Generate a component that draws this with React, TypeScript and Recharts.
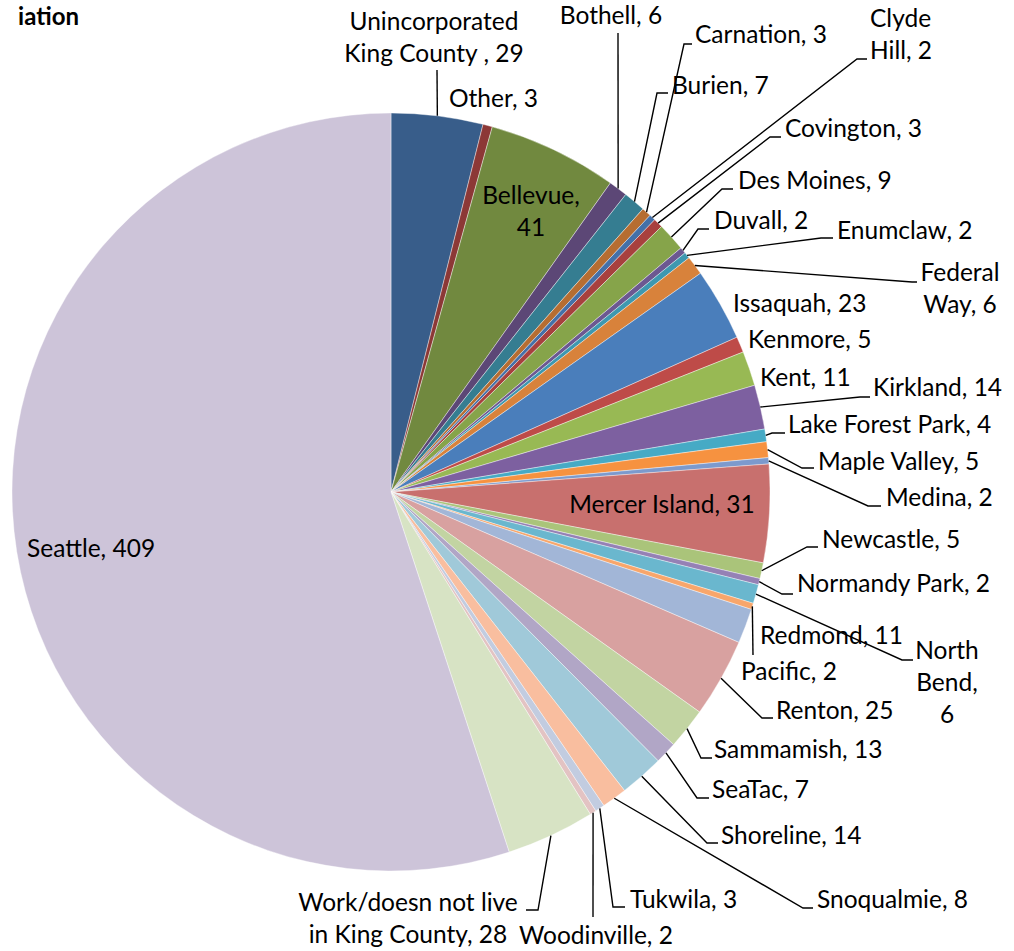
import { PieChart, Pie, Cell } from "recharts";

// survey counts by city, clockwise from 12 o'clock
const CITIES = [
  "Unincorporated King County ", "Other", "Bellevue", "Bothell", "Burien", "Carnation",
  "Clyde Hill", "Covington", "Des Moines", "Duvall", "Enumclaw", "Federal Way",
  "Issaquah", "Kenmore", "Kent", "Kirkland", "Lake Forest Park", "Maple Valley",
  "Medina", "Mercer Island", "Newcastle", "Normandy Park", "North Bend", "Pacific",
  "Redmond", "Renton", "Sammamish", "SeaTac", "Shoreline", "Snoqualmie",
  "Tukwila", "Woodinville", "Work/doesn not live in King County", "Seattle",
];
const COUNTS = [
  29, 3, 41, 6, 7, 3,
  2, 3, 9, 2, 2, 6,
  23, 5, 11, 14, 4, 5,
  2, 31, 5, 2, 6, 2,
  11, 25, 13, 7, 14, 8,
  3, 2, 28, 409,
];

// excel-ish palette, dark to light in cycles of 6
const COLORS = [
  "#385D8A", "#8C3836", "#71893F", "#5C4776", "#357D91", "#B66D31",
  "#4470A8", "#A8403E", "#86A44A", "#6C5891", "#3E98B0", "#D8823B",
  "#4A7EBB", "#BE4B48", "#98B954", "#7D60A0", "#46AAC5", "#F69240",
  "#7C9ACD", "#C8706E", "#AAC47A", "#9581B5", "#6AB7CE", "#F8A66B",
  "#A2B6D7", "#D8A1A0", "#C2D4A2", "#B1A6C6", "#A0C9D9", "#F9BE9F",
  "#C2CCE0", "#E3C3C3", "#D7E3C4", "#CDC4D9",
];

const data = CITIES.map((name, i) => ({ name, value: COUNTS[i] }));

type Lay = {
  x: number;
  y: number;
  anchor: "start" | "middle" | "end";
  split?: number[];
  path?: [number, number][];
};

// manual label placement (text centre line y) + leader line bends
const LABEL_LAYOUT: Lay[] = [
  { x: 434, y: 22, anchor: "middle", split: [1, 4], path: [[437, 70]] },
  { x: 449, y: 99, anchor: "start" },
  { x: 531, y: 196, anchor: "middle", split: [1, 1] },
  { x: 611, y: 16, anchor: "middle", path: [[618, 33]] },
  { x: 672, y: 86, anchor: "start", path: [[657, 93], [668, 93]] },
  { x: 695, y: 35, anchor: "start", path: [[684, 44], [692, 44]] },
  { x: 870, y: 19, anchor: "start", split: [1, 2], path: [[857, 59], [867, 59]] },
  { x: 785, y: 129, anchor: "start", path: [[770, 137], [781, 137]] },
  { x: 738, y: 181, anchor: "start", path: [[722, 189], [733, 189]] },
  { x: 714, y: 221, anchor: "start", path: [[698, 229], [709, 229]] },
  { x: 837, y: 231, anchor: "start", path: [[821, 238], [833, 238]] },
  { x: 960, y: 273, anchor: "middle", split: [1, 2], path: [[912, 282], [917, 282]] },
  { x: 733, y: 304, anchor: "start" },
  { x: 748, y: 340, anchor: "start" },
  { x: 760, y: 378, anchor: "start" },
  { x: 873, y: 388, anchor: "start", path: [[860, 397], [870, 397]] },
  { x: 788, y: 425, anchor: "start", path: [[772, 433], [785, 433]] },
  { x: 818, y: 462, anchor: "start", path: [[802, 468], [814, 468]] },
  { x: 886, y: 498, anchor: "start", path: [[868, 506], [881, 506]] },
  { x: 662, y: 505, anchor: "middle" },
  { x: 822, y: 540, anchor: "start", path: [[807, 547], [818, 547]] },
  { x: 797, y: 584, anchor: "start", path: [[782, 594], [793, 594]] },
  { x: 947, y: 651, anchor: "middle", split: [1, 1, 1], path: [[902, 660], [913, 660]] },
  { x: 741, y: 672, anchor: "start", path: [[753, 655]] },
  { x: 760, y: 636, anchor: "start" },
  { x: 776, y: 711, anchor: "start", path: [[762, 718], [773, 718]] },
  { x: 714, y: 750, anchor: "start", path: [[701, 758], [712, 758]] },
  { x: 712, y: 790, anchor: "start", path: [[697, 798], [709, 798]] },
  { x: 721, y: 836, anchor: "start", path: [[707, 843], [718, 843]] },
  { x: 817, y: 900, anchor: "start", path: [[803, 908], [813, 908]] },
  { x: 630, y: 900, anchor: "start", path: [[613, 907], [625, 907]] },
  { x: 596, y: 936, anchor: "middle", path: [[593, 917]] },
  { x: 408, y: 903, anchor: "middle", split: [3, 4], path: [[538, 910], [526, 910]] },
  { x: 27, y: 549, anchor: "start" },
];

const FONT = "Lato, 'Noto Sans', sans-serif";
const FONT_SIZE = 24.5;
const LINE_H = 32;
const RAD = Math.PI / 180;

function renderLabel(props: any) {
  const { cx, cy, midAngle, outerRadius, index, name, value } = props;
  const lay = LABEL_LAYOUT[index];
  if (!lay) return null;
  const words = `${name}, ${value}`.split(" ");
  const lines: string[] = [];
  if (lay.split) {
    let k = 0;
    lay.split.forEach((n) => {
      lines.push(words.slice(k, k + n).join(" "));
      k += n;
    });
  } else {
    lines.push(words.join(" "));
  }
  const ex = cx + outerRadius * Math.cos(-midAngle * RAD);
  const ey = cy + outerRadius * Math.sin(-midAngle * RAD);
  const pts = lay.path ? [[ex, ey], ...lay.path] : null;

  return (
    <g key={`lbl-${index}`}>
      {pts && (
        <polyline
          points={pts.map((p) => p.join(",")).join(" ")}
          fill="none"
          stroke="#000"
          strokeWidth={1.4}
        />
      )}
      <text
        x={lay.x}
        y={lay.y + 8}
        textAnchor={lay.anchor}
        fontFamily={FONT}
        fontSize={FONT_SIZE}
        fill="#000"
      >
        {lines.map((l, i) => (
          <tspan key={i} x={lay.x} dy={i === 0 ? 0 : LINE_H}>
            {l}
          </tspan>
        ))}
      </text>
    </g>
  );
}

export default function App() {
  return (
    <div style={{ position: "absolute", left: 0, top: 0, width: 1014, height: 951, background: "#fff" }}>
      <PieChart width={1014} height={951} margin={{ top: 0, right: 0, bottom: 0, left: 0 }}>
        <text x={79} y={25} textAnchor="end" fontFamily={FONT} fontWeight="bold" fontSize={24} fill="#000">
          iation
        </text>
        <Pie
          data={data}
          dataKey="value"
          nameKey="name"
          cx={391}
          cy={492}
          outerRadius={379}
          startAngle={90}
          endAngle={-270}
          stroke="#ffffff"
          strokeWidth={0.4}
          label={renderLabel}
          labelLine={false}
          isAnimationActive={false}
        >
          {data.map((_, i) => (
            <Cell key={i} fill={COLORS[i % COLORS.length]} />
          ))}
        </Pie>
      </PieChart>
    </div>
  );
}
